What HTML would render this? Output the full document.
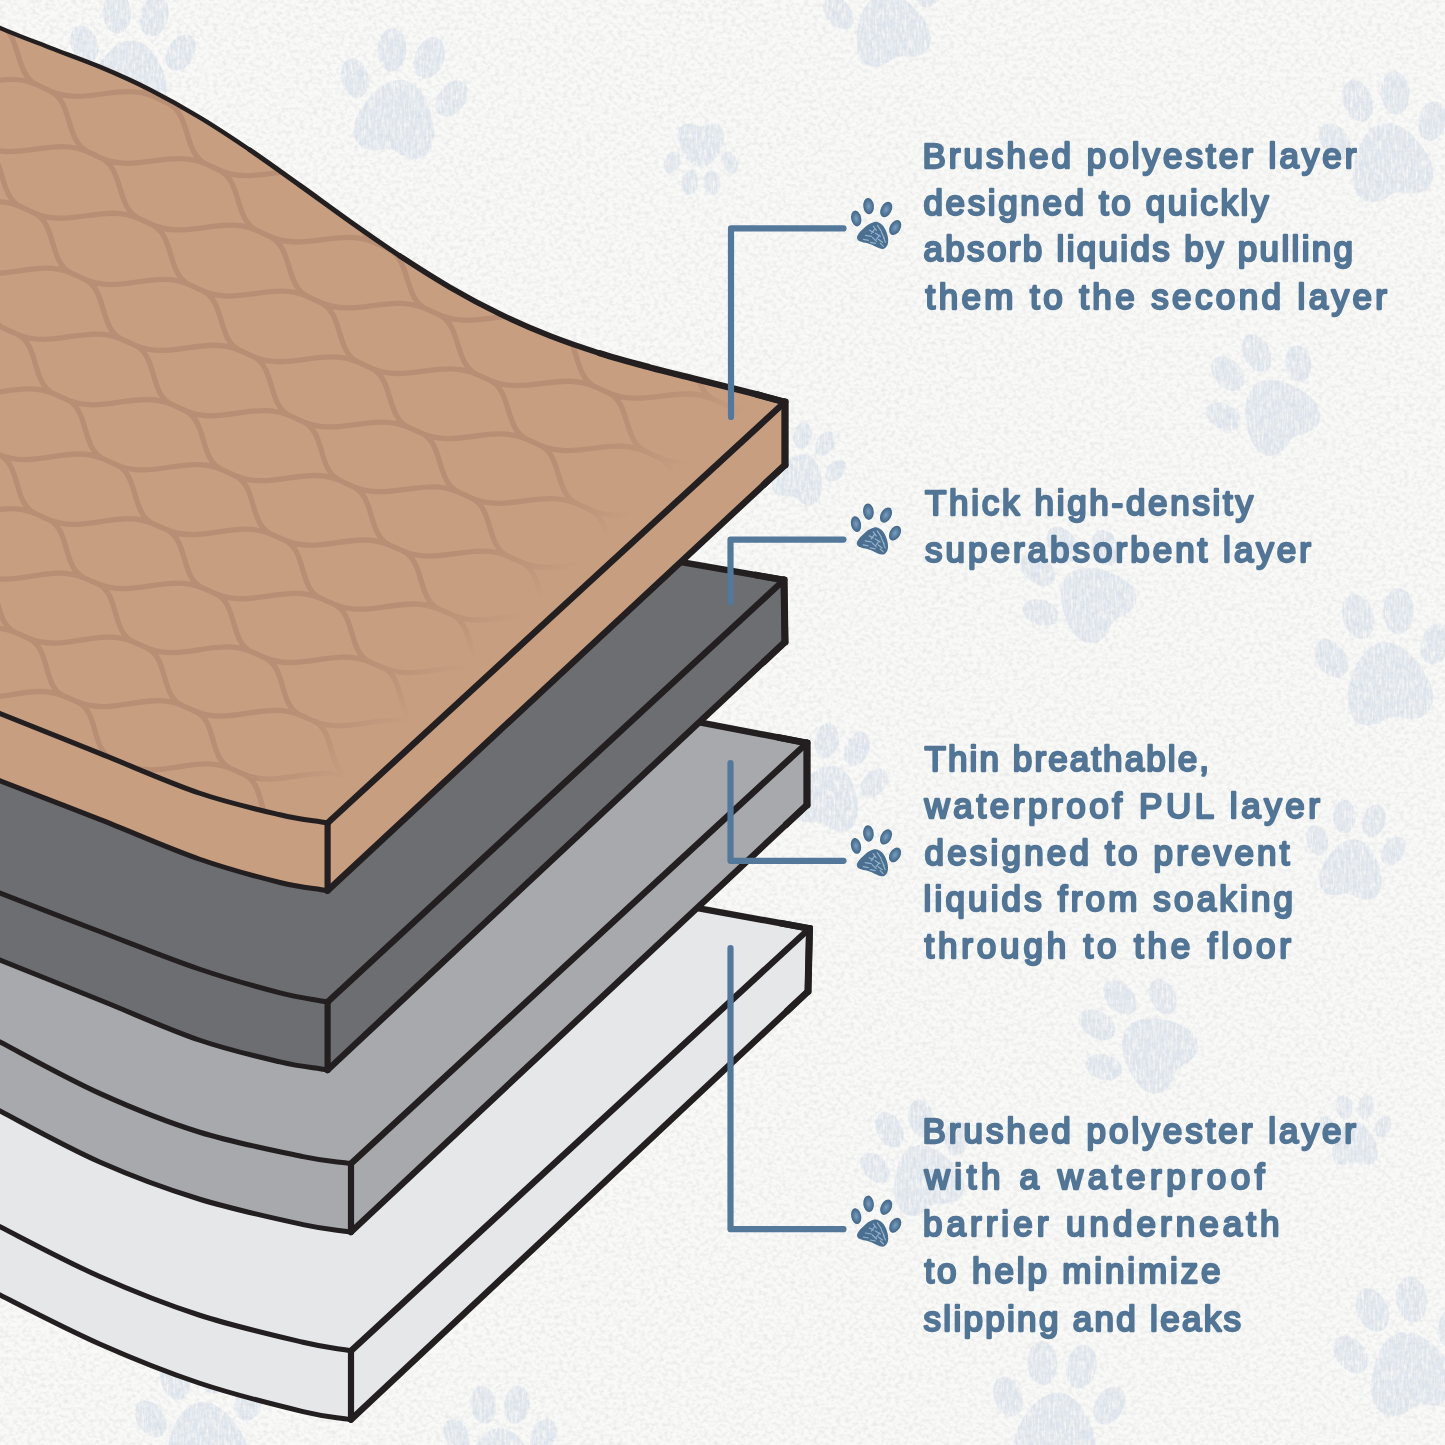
<!DOCTYPE html>
<html lang="en"><head><meta charset="utf-8"><title>Pad layers</title>
<style>html,body{margin:0;padding:0;background:#f6f6f3}body{width:1445px;height:1445px;overflow:hidden}svg{display:block}text{font-family:"Liberation Sans",sans-serif;font-weight:400;fill:#527596;stroke:#527596;stroke-width:2.3;stroke-linejoin:round;paint-order:stroke}</style></head><body>
<svg width="1445" height="1445" viewBox="0 0 1445 1445">
<defs>
<filter id="paper" x="0" y="0" width="100%" height="100%"><feTurbulence type="fractalNoise" baseFrequency="0.22 0.26" numOctaves="3" seed="7" result="n"/><feColorMatrix in="n" type="matrix" values="0 0 0 0 0.62  0 0 0 0 0.64  0 0 0 0 0.66  0.9 0 0 0 -0.38"/></filter>
<filter id="cray" x="-5%" y="-5%" width="110%" height="110%"><feTurbulence type="fractalNoise" baseFrequency="0.45 0.1" numOctaves="2" seed="3" result="t"/><feColorMatrix in="t" type="matrix" values="0 0 0 0 0  0 0 0 0 0  0 0 0 0 0  2.2 0 0 0 -0.35" result="m"/><feComposite in="SourceGraphic" in2="m" operator="in"/></filter>
<linearGradient id="fade" gradientUnits="userSpaceOnUse" x1="478.4" y1="527.9" x2="556.3" y2="612.5"><stop offset="0" stop-color="#c89e81" stop-opacity="0"/><stop offset="0.5" stop-color="#c89e81" stop-opacity="0.4"/><stop offset="0.82" stop-color="#c89e81" stop-opacity="1"/><stop offset="1" stop-color="#c89e81" stop-opacity="1"/></linearGradient>
<clipPath id="padclip"><path d="M24 24.6 C29 23.5 34.5 29 36.5 36 C38.5 42.5 38.5 47.5 35 50.5 C31.5 53.5 27 50 21.5 47.5 C16 45 9 45.5 7 42 C5 38.5 11 33 15 29.5 C18 26.8 21 25.2 24 24.6 Z"/></clipPath>
<radialGradient id="toeg" cx="0.5" cy="0.5" r="0.5"><stop offset="0" stop-color="#7d9fc0"/><stop offset="0.55" stop-color="#587d9f"/><stop offset="1" stop-color="#3f6486"/></radialGradient>
</defs>
<rect width="1445" height="1445" fill="#f9f9f7"/>
<g fill="#e0e7ef" filter="url(#cray)"><g transform="translate(130.0 78.0) rotate(5) scale(0.78)" opacity="1"><path d="M0 -48 C22 -48 40 -22 48 4 C56 30 44 48 24 46 C12 45 8 40 0 40 C-8 40 -12 45 -24 46 C-44 48 -56 30 -48 4 C-40 -22 -22 -48 0 -48 Z"/><ellipse cx="-62" cy="-38" rx="17" ry="25" transform="rotate(-25 -62 -38)"/><ellipse cx="-24" cy="-82" rx="18" ry="27" transform="rotate(-8 -24 -82)"/><ellipse cx="24" cy="-82" rx="18" ry="27" transform="rotate(8 24 -82)"/><ellipse cx="62" cy="-38" rx="17" ry="25" transform="rotate(25 62 -38)"/></g><g transform="translate(397.0 118.0) rotate(12) scale(0.8)" opacity="1"><path d="M0 -48 C22 -48 40 -22 48 4 C56 30 44 48 24 46 C12 45 8 40 0 40 C-8 40 -12 45 -24 46 C-44 48 -56 30 -48 4 C-40 -22 -22 -48 0 -48 Z"/><ellipse cx="-62" cy="-38" rx="17" ry="25" transform="rotate(-25 -62 -38)"/><ellipse cx="-24" cy="-82" rx="18" ry="27" transform="rotate(-8 -24 -82)"/><ellipse cx="24" cy="-82" rx="18" ry="27" transform="rotate(8 24 -82)"/><ellipse cx="62" cy="-38" rx="17" ry="25" transform="rotate(25 62 -38)"/></g><g transform="translate(701.0 145.0) rotate(180) scale(0.46)" opacity="1"><path d="M0 -48 C22 -48 40 -22 48 4 C56 30 44 48 24 46 C12 45 8 40 0 40 C-8 40 -12 45 -24 46 C-44 48 -56 30 -48 4 C-40 -22 -22 -48 0 -48 Z"/><ellipse cx="-62" cy="-38" rx="17" ry="25" transform="rotate(-25 -62 -38)"/><ellipse cx="-24" cy="-82" rx="18" ry="27" transform="rotate(-8 -24 -82)"/><ellipse cx="24" cy="-82" rx="18" ry="27" transform="rotate(8 24 -82)"/><ellipse cx="62" cy="-38" rx="17" ry="25" transform="rotate(25 62 -38)"/></g><g transform="translate(890.0 28.0) rotate(-15) scale(0.74)" opacity="1"><path d="M0 -48 C22 -48 40 -22 48 4 C56 30 44 48 24 46 C12 45 8 40 0 40 C-8 40 -12 45 -24 46 C-44 48 -56 30 -48 4 C-40 -22 -22 -48 0 -48 Z"/><ellipse cx="-62" cy="-38" rx="17" ry="25" transform="rotate(-25 -62 -38)"/><ellipse cx="-24" cy="-82" rx="18" ry="27" transform="rotate(-8 -24 -82)"/><ellipse cx="24" cy="-82" rx="18" ry="27" transform="rotate(8 24 -82)"/><ellipse cx="62" cy="-38" rx="17" ry="25" transform="rotate(25 62 -38)"/></g><g transform="translate(1390.0 161.0) rotate(-12) scale(0.8)" opacity="1"><path d="M0 -48 C22 -48 40 -22 48 4 C56 30 44 48 24 46 C12 45 8 40 0 40 C-8 40 -12 45 -24 46 C-44 48 -56 30 -48 4 C-40 -22 -22 -48 0 -48 Z"/><ellipse cx="-62" cy="-38" rx="17" ry="25" transform="rotate(-25 -62 -38)"/><ellipse cx="-24" cy="-82" rx="18" ry="27" transform="rotate(-8 -24 -82)"/><ellipse cx="24" cy="-82" rx="18" ry="27" transform="rotate(8 24 -82)"/><ellipse cx="62" cy="-38" rx="17" ry="25" transform="rotate(25 62 -38)"/></g><g transform="translate(1277.0 413.0) rotate(-35) scale(0.74)" opacity="1"><path d="M0 -48 C22 -48 40 -22 48 4 C56 30 44 48 24 46 C12 45 8 40 0 40 C-8 40 -12 45 -24 46 C-44 48 -56 30 -48 4 C-40 -22 -22 -48 0 -48 Z"/><ellipse cx="-62" cy="-38" rx="17" ry="25" transform="rotate(-25 -62 -38)"/><ellipse cx="-24" cy="-82" rx="18" ry="27" transform="rotate(-8 -24 -82)"/><ellipse cx="24" cy="-82" rx="18" ry="27" transform="rotate(8 24 -82)"/><ellipse cx="62" cy="-38" rx="17" ry="25" transform="rotate(25 62 -38)"/></g><g transform="translate(1093.0 600.0) rotate(-45) scale(0.74)" opacity="1"><path d="M0 -48 C22 -48 40 -22 48 4 C56 30 44 48 24 46 C12 45 8 40 0 40 C-8 40 -12 45 -24 46 C-44 48 -56 30 -48 4 C-40 -22 -22 -48 0 -48 Z"/><ellipse cx="-62" cy="-38" rx="17" ry="25" transform="rotate(-25 -62 -38)"/><ellipse cx="-24" cy="-82" rx="18" ry="27" transform="rotate(-8 -24 -82)"/><ellipse cx="24" cy="-82" rx="18" ry="27" transform="rotate(8 24 -82)"/><ellipse cx="62" cy="-38" rx="17" ry="25" transform="rotate(25 62 -38)"/></g><g transform="translate(1388.0 683.0) rotate(-8) scale(0.85)" opacity="1"><path d="M0 -48 C22 -48 40 -22 48 4 C56 30 44 48 24 46 C12 45 8 40 0 40 C-8 40 -12 45 -24 46 C-44 48 -56 30 -48 4 C-40 -22 -22 -48 0 -48 Z"/><ellipse cx="-62" cy="-38" rx="17" ry="25" transform="rotate(-25 -62 -38)"/><ellipse cx="-24" cy="-82" rx="18" ry="27" transform="rotate(-8 -24 -82)"/><ellipse cx="24" cy="-82" rx="18" ry="27" transform="rotate(8 24 -82)"/><ellipse cx="62" cy="-38" rx="17" ry="25" transform="rotate(25 62 -38)"/></g><g transform="translate(828.0 797.0) rotate(15) scale(0.66)" opacity="1"><path d="M0 -48 C22 -48 40 -22 48 4 C56 30 44 48 24 46 C12 45 8 40 0 40 C-8 40 -12 45 -24 46 C-44 48 -56 30 -48 4 C-40 -22 -22 -48 0 -48 Z"/><ellipse cx="-62" cy="-38" rx="17" ry="25" transform="rotate(-25 -62 -38)"/><ellipse cx="-24" cy="-82" rx="18" ry="27" transform="rotate(-8 -24 -82)"/><ellipse cx="24" cy="-82" rx="18" ry="27" transform="rotate(8 24 -82)"/><ellipse cx="62" cy="-38" rx="17" ry="25" transform="rotate(25 62 -38)"/></g><g transform="translate(1352.0 869.0) rotate(8) scale(0.62)" opacity="1"><path d="M0 -48 C22 -48 40 -22 48 4 C56 30 44 48 24 46 C12 45 8 40 0 40 C-8 40 -12 45 -24 46 C-44 48 -56 30 -48 4 C-40 -22 -22 -48 0 -48 Z"/><ellipse cx="-62" cy="-38" rx="17" ry="25" transform="rotate(-25 -62 -38)"/><ellipse cx="-24" cy="-82" rx="18" ry="27" transform="rotate(-8 -24 -82)"/><ellipse cx="24" cy="-82" rx="18" ry="27" transform="rotate(8 24 -82)"/><ellipse cx="62" cy="-38" rx="17" ry="25" transform="rotate(25 62 -38)"/></g><g transform="translate(1155.0 1050.0) rotate(-50) scale(0.74)" opacity="1"><path d="M0 -48 C22 -48 40 -22 48 4 C56 30 44 48 24 46 C12 45 8 40 0 40 C-8 40 -12 45 -24 46 C-44 48 -56 30 -48 4 C-40 -22 -22 -48 0 -48 Z"/><ellipse cx="-62" cy="-38" rx="17" ry="25" transform="rotate(-25 -62 -38)"/><ellipse cx="-24" cy="-82" rx="18" ry="27" transform="rotate(-8 -24 -82)"/><ellipse cx="24" cy="-82" rx="18" ry="27" transform="rotate(8 24 -82)"/><ellipse cx="62" cy="-38" rx="17" ry="25" transform="rotate(25 62 -38)"/></g><g transform="translate(925.0 1178.0) rotate(-20) scale(0.7)" opacity="1"><path d="M0 -48 C22 -48 40 -22 48 4 C56 30 44 48 24 46 C12 45 8 40 0 40 C-8 40 -12 45 -24 46 C-44 48 -56 30 -48 4 C-40 -22 -22 -48 0 -48 Z"/><ellipse cx="-62" cy="-38" rx="17" ry="25" transform="rotate(-25 -62 -38)"/><ellipse cx="-24" cy="-82" rx="18" ry="27" transform="rotate(-8 -24 -82)"/><ellipse cx="24" cy="-82" rx="18" ry="27" transform="rotate(8 24 -82)"/><ellipse cx="62" cy="-38" rx="17" ry="25" transform="rotate(25 62 -38)"/></g><g transform="translate(1355.0 1144.0) rotate(0) scale(0.45)" opacity="1"><path d="M0 -48 C22 -48 40 -22 48 4 C56 30 44 48 24 46 C12 45 8 40 0 40 C-8 40 -12 45 -24 46 C-44 48 -56 30 -48 4 C-40 -22 -22 -48 0 -48 Z"/><ellipse cx="-62" cy="-38" rx="17" ry="25" transform="rotate(-25 -62 -38)"/><ellipse cx="-24" cy="-82" rx="18" ry="27" transform="rotate(-8 -24 -82)"/><ellipse cx="24" cy="-82" rx="18" ry="27" transform="rotate(8 24 -82)"/><ellipse cx="62" cy="-38" rx="17" ry="25" transform="rotate(25 62 -38)"/></g><g transform="translate(1410.0 1372.0) rotate(-15) scale(0.85)" opacity="1"><path d="M0 -48 C22 -48 40 -22 48 4 C56 30 44 48 24 46 C12 45 8 40 0 40 C-8 40 -12 45 -24 46 C-44 48 -56 30 -48 4 C-40 -22 -22 -48 0 -48 Z"/><ellipse cx="-62" cy="-38" rx="17" ry="25" transform="rotate(-25 -62 -38)"/><ellipse cx="-24" cy="-82" rx="18" ry="27" transform="rotate(-8 -24 -82)"/><ellipse cx="24" cy="-82" rx="18" ry="27" transform="rotate(8 24 -82)"/><ellipse cx="62" cy="-38" rx="17" ry="25" transform="rotate(25 62 -38)"/></g><g transform="translate(1056.0 1432.0) rotate(5) scale(0.82)" opacity="1"><path d="M0 -48 C22 -48 40 -22 48 4 C56 30 44 48 24 46 C12 45 8 40 0 40 C-8 40 -12 45 -24 46 C-44 48 -56 30 -48 4 C-40 -22 -22 -48 0 -48 Z"/><ellipse cx="-62" cy="-38" rx="17" ry="25" transform="rotate(-25 -62 -38)"/><ellipse cx="-24" cy="-82" rx="18" ry="27" transform="rotate(-8 -24 -82)"/><ellipse cx="24" cy="-82" rx="18" ry="27" transform="rotate(8 24 -82)"/><ellipse cx="62" cy="-38" rx="17" ry="25" transform="rotate(25 62 -38)"/></g><g transform="translate(205.0 1440.0) rotate(-10) scale(0.8)" opacity="1"><path d="M0 -48 C22 -48 40 -22 48 4 C56 30 44 48 24 46 C12 45 8 40 0 40 C-8 40 -12 45 -24 46 C-44 48 -56 30 -48 4 C-40 -22 -22 -48 0 -48 Z"/><ellipse cx="-62" cy="-38" rx="17" ry="25" transform="rotate(-25 -62 -38)"/><ellipse cx="-24" cy="-82" rx="18" ry="27" transform="rotate(-8 -24 -82)"/><ellipse cx="24" cy="-82" rx="18" ry="27" transform="rotate(8 24 -82)"/><ellipse cx="62" cy="-38" rx="17" ry="25" transform="rotate(25 62 -38)"/></g><g transform="translate(500.0 1462.0) rotate(0) scale(0.7)" opacity="1"><path d="M0 -48 C22 -48 40 -22 48 4 C56 30 44 48 24 46 C12 45 8 40 0 40 C-8 40 -12 45 -24 46 C-44 48 -56 30 -48 4 C-40 -22 -22 -48 0 -48 Z"/><ellipse cx="-62" cy="-38" rx="17" ry="25" transform="rotate(-25 -62 -38)"/><ellipse cx="-24" cy="-82" rx="18" ry="27" transform="rotate(-8 -24 -82)"/><ellipse cx="24" cy="-82" rx="18" ry="27" transform="rotate(8 24 -82)"/><ellipse cx="62" cy="-38" rx="17" ry="25" transform="rotate(25 62 -38)"/></g><g transform="translate(800.0 478.0) rotate(20) scale(0.5)" opacity="1"><path d="M0 -48 C22 -48 40 -22 48 4 C56 30 44 48 24 46 C12 45 8 40 0 40 C-8 40 -12 45 -24 46 C-44 48 -56 30 -48 4 C-40 -22 -22 -48 0 -48 Z"/><ellipse cx="-62" cy="-38" rx="17" ry="25" transform="rotate(-25 -62 -38)"/><ellipse cx="-24" cy="-82" rx="18" ry="27" transform="rotate(-8 -24 -82)"/><ellipse cx="24" cy="-82" rx="18" ry="27" transform="rotate(8 24 -82)"/><ellipse cx="62" cy="-38" rx="17" ry="25" transform="rotate(25 62 -38)"/></g></g>
<rect width="1445" height="1445" filter="url(#paper)" opacity="1"/>
<g fill="#e6e7e8" stroke="#e6e7e8" stroke-width="2" stroke-linejoin="round"><path d="M351.0 1350.8 C335.0 1348.0 328.3 1348.3 303.0 1342.3 C277.7 1336.3 232.9 1326.0 199.0 1315.0 C165.1 1304.0 132.9 1291.2 99.7 1276.5 C66.5 1261.8 23.3 1238.6 0.0 1226.7 C-23.3 1214.8 -26.7 1212.2 -40.0 1205.0 L-40.0 1273.0 C-26.7 1280.3 -23.3 1283.2 0.0 1295.0 C23.3 1306.8 66.5 1329.3 99.7 1344.0 C132.9 1358.7 165.1 1371.7 199.0 1383.0 C232.9 1394.3 277.7 1405.5 303.0 1411.6 C328.3 1417.7 335.0 1416.9 351.0 1419.6 Z"/><path d="M809.5 928.5L808.0 991.5L351.0 1419.6L351.0 1350.8Z"/><path d="M500.0 872.0 L809.5 928.5 L351.0 1350.8 C335.0 1348.0 328.3 1348.3 303.0 1342.3 C277.7 1336.3 232.9 1326.0 199.0 1315.0 C165.1 1304.0 132.9 1291.2 99.7 1276.5 C66.5 1261.8 23.3 1238.6 0.0 1226.7 C-23.3 1214.8 -26.7 1212.2 -40.0 1205.0 L-40 722.0 Z"/></g>
<g fill="none" stroke="#231f20" stroke-linecap="round" stroke-linejoin="round">
<path d="M351.0 1350.8 C335.0 1348.0 328.3 1348.3 303.0 1342.3 C277.7 1336.3 232.9 1326.0 199.0 1315.0 C165.1 1304.0 132.9 1291.2 99.7 1276.5 C66.5 1261.8 23.3 1238.6 0.0 1226.7 C-23.3 1214.8 -26.7 1212.2 -40.0 1205.0" stroke-width="5"/>
<path d="M351.0 1419.6 C335.0 1416.9 328.3 1417.7 303.0 1411.6 C277.7 1405.5 232.9 1394.3 199.0 1383.0 C165.1 1371.7 132.9 1358.7 99.7 1344.0 C66.5 1329.3 23.3 1306.8 0.0 1295.0 C-23.3 1283.2 -26.7 1280.3 -40.0 1273.0" stroke-width="5"/>
<path d="M500.0 872.0 L809.5 928.5" stroke-width="6.4"/>
<path d="M809.5 928.5 L351.0 1350.8" stroke-width="6.4"/>
<path d="M808.0 991.5 L351.0 1419.6" stroke-width="6.4"/>
<path d="M809.5 928.5 L808.0 991.5" stroke-width="7"/>
<path d="M351.0 1350.8 L351.0 1419.6" stroke-width="6.2"/>
<path d="M780.0 923.1 L809.5 928.5 L808.0 991.5 L786.1 1012.0" stroke-width="6.6" stroke-linejoin="miter" stroke-miterlimit="6" stroke-linecap="butt"/>
</g>
<g fill="#a7a9ac" stroke="#a7a9ac" stroke-width="2" stroke-linejoin="round"><path d="M351.0 1163.6 C335.0 1161.3 328.3 1161.9 303.0 1156.6 C277.7 1151.3 232.9 1142.5 199.0 1132.0 C165.1 1121.5 132.9 1108.4 99.7 1093.4 C66.5 1078.4 23.3 1054.2 0.0 1042.0 C-23.3 1029.8 -26.7 1027.3 -40.0 1020.0 L-40.0 1089.0 C-26.7 1096.3 -23.3 1098.8 0.0 1111.0 C23.3 1123.2 66.5 1147.3 99.7 1162.0 C132.9 1176.7 165.1 1188.6 199.0 1199.0 C232.9 1209.4 277.7 1219.1 303.0 1224.6 C328.3 1230.1 335.0 1229.5 351.0 1232.0 Z"/><path d="M807.0 743.0L807.0 805.0L351.0 1232.0L351.0 1163.6Z"/><path d="M500.0 684.0 L807.0 743.0 L351.0 1163.6 C335.0 1161.3 328.3 1161.9 303.0 1156.6 C277.7 1151.3 232.9 1142.5 199.0 1132.0 C165.1 1121.5 132.9 1108.4 99.7 1093.4 C66.5 1078.4 23.3 1054.2 0.0 1042.0 C-23.3 1029.8 -26.7 1027.3 -40.0 1020.0 L-40 534.0 Z"/></g>
<g fill="none" stroke="#231f20" stroke-linecap="round" stroke-linejoin="round">
<path d="M351.0 1163.6 C335.0 1161.3 328.3 1161.9 303.0 1156.6 C277.7 1151.3 232.9 1142.5 199.0 1132.0 C165.1 1121.5 132.9 1108.4 99.7 1093.4 C66.5 1078.4 23.3 1054.2 0.0 1042.0 C-23.3 1029.8 -26.7 1027.3 -40.0 1020.0" stroke-width="5"/>
<path d="M351.0 1232.0 C335.0 1229.5 328.3 1230.1 303.0 1224.6 C277.7 1219.1 232.9 1209.4 199.0 1199.0 C165.1 1188.6 132.9 1176.7 99.7 1162.0 C66.5 1147.3 23.3 1123.2 0.0 1111.0 C-23.3 1098.8 -26.7 1096.3 -40.0 1089.0" stroke-width="5"/>
<path d="M500.0 684.0 L807.0 743.0" stroke-width="6.4"/>
<path d="M807.0 743.0 L351.0 1163.6" stroke-width="6.4"/>
<path d="M807.0 805.0 L351.0 1232.0" stroke-width="6.4"/>
<path d="M807.0 743.0 L807.0 805.0" stroke-width="7"/>
<path d="M351.0 1163.6 L351.0 1232.0" stroke-width="6.2"/>
<path d="M777.5 737.3 L807.0 743.0 L807.0 805.0 L785.1 825.5" stroke-width="6.6" stroke-linejoin="miter" stroke-miterlimit="6" stroke-linecap="butt"/>
</g>
<g fill="#6d6e71" stroke="#6d6e71" stroke-width="2" stroke-linejoin="round"><path d="M327.6 1002.0 C311.7 998.9 301.4 998.3 280.0 992.8 C258.6 987.3 229.1 979.2 199.0 969.0 C168.9 958.8 132.9 944.2 99.7 931.5 C66.5 918.8 23.3 902.1 0.0 893.0 C-23.3 883.9 -26.7 882.3 -40.0 877.0 L-40.0 944.0 C-26.7 949.3 -23.3 950.7 0.0 960.0 C23.3 969.3 66.5 986.7 99.7 1000.0 C132.9 1013.3 168.9 1029.7 199.0 1040.0 C229.1 1050.3 258.6 1056.9 280.0 1061.9 C301.4 1066.9 311.7 1067.3 327.6 1070.0 Z"/><path d="M784.0 580.0L785.0 642.0L327.6 1070.0L327.6 1002.0Z"/><path d="M480.0 527.0 L784.0 580.0 L327.6 1002.0 C311.7 998.9 301.4 998.3 280.0 992.8 C258.6 987.3 229.1 979.2 199.0 969.0 C168.9 958.8 132.9 944.2 99.7 931.5 C66.5 918.8 23.3 902.1 0.0 893.0 C-23.3 883.9 -26.7 882.3 -40.0 877.0 L-40 377.0 Z"/></g>
<g fill="none" stroke="#231f20" stroke-linecap="round" stroke-linejoin="round">
<path d="M327.6 1002.0 C311.7 998.9 301.4 998.3 280.0 992.8 C258.6 987.3 229.1 979.2 199.0 969.0 C168.9 958.8 132.9 944.2 99.7 931.5 C66.5 918.8 23.3 902.1 0.0 893.0 C-23.3 883.9 -26.7 882.3 -40.0 877.0" stroke-width="5"/>
<path d="M327.6 1070.0 C311.7 1067.3 301.4 1066.9 280.0 1061.9 C258.6 1056.9 229.1 1050.3 199.0 1040.0 C168.9 1029.7 132.9 1013.3 99.7 1000.0 C66.5 986.7 23.3 969.3 0.0 960.0 C-23.3 950.7 -26.7 949.3 -40.0 944.0" stroke-width="5"/>
<path d="M480.0 527.0 L784.0 580.0" stroke-width="6.4"/>
<path d="M784.0 580.0 L327.6 1002.0" stroke-width="6.4"/>
<path d="M785.0 642.0 L327.6 1070.0" stroke-width="6.4"/>
<path d="M784.0 580.0 L785.0 642.0" stroke-width="7"/>
<path d="M327.6 1002.0 L327.6 1070.0" stroke-width="6.2"/>
<path d="M754.4 574.8 L784.0 580.0 L785.0 642.0 L763.1 662.5" stroke-width="6.6" stroke-linejoin="miter" stroke-miterlimit="6" stroke-linecap="butt"/>
</g>
<g fill="#c89e81" stroke="#c89e81" stroke-width="2" stroke-linejoin="round"><path d="M327.6 823.0 C311.7 820.3 301.4 819.8 280.0 814.8 C258.6 809.8 229.1 803.2 199.0 793.0 C168.9 782.8 132.9 766.6 99.7 753.4 C66.5 740.1 23.3 722.9 0.0 713.5 C-23.3 704.1 -26.7 702.5 -40.0 697.0 L-40.0 765.0 C-26.7 770.3 -23.3 771.7 0.0 780.8 C23.3 789.9 66.5 806.4 99.7 819.4 C132.9 832.4 168.9 848.5 199.0 859.0 C229.1 869.5 258.6 877.2 280.0 882.5 C301.4 887.8 311.7 888.0 327.6 890.7 Z"/><path d="M785.0 402.0L785.0 465.0L327.6 890.7L327.6 823.0Z"/><path d="M-40.0 8.0 C-26.7 14.6 -15.0 21.3 0.0 27.9 C15.0 34.5 33.3 41.2 50.0 47.7 C66.7 54.2 83.3 59.9 100.0 66.9 C116.7 73.9 133.3 81.2 150.0 89.7 C166.7 98.2 183.3 107.5 200.0 117.6 C216.7 127.6 233.3 138.7 250.0 150.0 C266.7 161.3 283.3 173.5 300.0 185.4 C316.7 197.3 333.3 209.7 350.0 221.5 C366.7 233.3 383.3 245.0 400.0 256.0 C416.7 267.0 433.3 277.6 450.0 287.3 C466.7 297.0 483.3 305.9 500.0 314.0 C516.7 322.1 533.3 329.3 550.0 335.9 C566.7 342.4 583.3 348.0 600.0 353.3 C616.7 358.6 633.3 363.0 650.0 367.5 C666.7 372.0 684.2 376.1 700.0 380.1 C715.8 384.1 730.8 387.8 745.0 391.4 C759.2 395.0 771.7 398.5 785.0 402.0 L327.6 823.0 C311.7 820.3 301.4 819.8 280.0 814.8 C258.6 809.8 229.1 803.2 199.0 793.0 C168.9 782.8 132.9 766.6 99.7 753.4 C66.5 740.1 23.3 722.9 0.0 713.5 C-23.3 704.1 -26.7 702.5 -40.0 697.0 Z"/></g>
<clipPath id="cl1"><path d="M-40.0 8.0 C-26.7 14.6 -15.0 21.3 0.0 27.9 C15.0 34.5 33.3 41.2 50.0 47.7 C66.7 54.2 83.3 59.9 100.0 66.9 C116.7 73.9 133.3 81.2 150.0 89.7 C166.7 98.2 183.3 107.5 200.0 117.6 C216.7 127.6 233.3 138.7 250.0 150.0 C266.7 161.3 283.3 173.5 300.0 185.4 C316.7 197.3 333.3 209.7 350.0 221.5 C366.7 233.3 383.3 245.0 400.0 256.0 C416.7 267.0 433.3 277.6 450.0 287.3 C466.7 297.0 483.3 305.9 500.0 314.0 C516.7 322.1 533.3 329.3 550.0 335.9 C566.7 342.4 583.3 348.0 600.0 353.3 C616.7 358.6 633.3 363.0 650.0 367.5 C666.7 372.0 684.2 376.1 700.0 380.1 C715.8 384.1 730.8 387.8 745.0 391.4 C759.2 395.0 771.7 398.5 785.0 402.0 L327.6 823.0 C311.7 820.3 301.4 819.8 280.0 814.8 C258.6 809.8 229.1 803.2 199.0 793.0 C168.9 782.8 132.9 766.6 99.7 753.4 C66.5 740.1 23.3 722.9 0.0 713.5 C-23.3 704.1 -26.7 702.5 -40.0 697.0 Z"/></clipPath>
<g clip-path="url(#cl1)"><path d="M-192.5 797.5L-179.6 803.0 M-179.6 803.0C-144.9 817.8 -109.5 790.5 -74.9 805.4 M-179.6 803.0C-157.4 812.5 -167.0 850.8 -144.8 860.2 M-144.8 860.2L-131.9 865.7 M-131.9 865.7C-97.1 880.4 -61.8 853.2 -27.1 868.0 M-131.9 865.7C-109.8 875.1 -119.4 913.3 -97.3 922.6 M-171.2 678.8L-158.3 684.4 M-158.3 684.4C-123.7 699.4 -88.1 672.3 -53.5 687.3 M-158.3 684.4C-135.9 694.1 -145.3 732.6 -122.9 742.3 M-122.9 742.3L-110.0 747.8 M-110.0 747.8C-75.4 762.8 -39.8 735.7 -5.2 750.7 M-110.0 747.8C-87.8 757.4 -97.2 795.8 -74.9 805.4 M-74.9 805.4L-62.0 810.9 M-62.0 810.9C-27.2 825.7 8.2 798.7 43.0 813.6 M-62.0 810.9C-39.8 820.3 -49.2 858.5 -27.1 868.0 M-27.1 868.0L-14.2 873.4 M-14.2 873.4C20.6 888.2 56.1 861.3 90.9 876.1 M-14.2 873.4C7.9 882.8 -1.5 920.9 20.5 930.1 M-199.9 494.6L-187.1 500.3 M-187.1 500.3C-152.6 515.6 -116.8 488.6 -82.3 504.0 M-187.1 500.3C-164.4 510.4 -173.7 549.2 -150.9 559.3 M-150.9 559.3L-138.1 565.0 M-138.1 565.0C-103.5 580.2 -67.8 553.2 -33.2 568.5 M-138.1 565.0C-115.4 574.9 -124.8 613.6 -102.1 623.5 M-102.1 623.5L-89.3 629.2 M-89.3 629.2C-54.6 644.3 -18.9 617.4 15.7 632.6 M-89.3 629.2C-66.7 639.0 -76.0 677.5 -53.5 687.3 M-53.5 687.3L-40.7 692.9 M-40.7 692.9C-6.0 708.0 29.7 681.2 64.3 696.3 M-40.7 692.9C-18.3 702.7 -27.6 741.0 -5.2 750.7 M-5.2 750.7L7.7 756.2 M7.7 756.2C42.4 771.2 78.0 744.5 112.8 759.5 M7.7 756.2C30.0 765.9 20.7 804.1 43.0 813.6 M43.0 813.6L55.8 819.1 M55.8 819.1C90.6 834.1 126.2 807.3 161.0 822.3 M55.8 819.1C78.0 828.6 68.7 866.7 90.9 876.1 M90.9 876.1L103.7 881.6 M103.7 881.6C138.6 896.4 174.1 869.7 208.9 884.6 M103.7 881.6C125.7 890.9 116.5 928.8 138.5 938.1 M-181.3 373.6L-168.5 379.3 M-168.5 379.3C-134.1 394.8 -98.1 368.0 -63.7 383.6 M-168.5 379.3C-145.5 389.7 -154.7 428.7 -131.7 439.0 M-131.7 439.0L-118.9 444.7 M-118.9 444.7C-84.4 460.2 -48.5 433.4 -14.0 448.8 M-118.9 444.7C-96.0 455.0 -105.2 493.8 -82.3 504.0 M-82.3 504.0L-69.6 509.6 M-69.6 509.6C-35.0 525.0 0.9 498.3 35.4 513.7 M-69.6 509.6C-46.8 519.8 -56.0 558.4 -33.2 568.5 M-33.2 568.5L-20.4 574.2 M-20.4 574.2C14.2 589.5 50.0 562.8 84.6 578.1 M-20.4 574.2C2.2 584.1 -7.0 622.7 15.7 632.6 M15.7 632.6L28.5 638.2 M28.5 638.2C63.2 653.4 98.9 626.8 133.6 642.0 M28.5 638.2C51.0 648.1 41.8 686.4 64.3 696.3 M64.3 696.3L77.2 701.8 M77.2 701.8C111.9 717.0 147.6 690.4 182.4 705.6 M77.2 701.8C99.5 711.6 90.4 749.8 112.8 759.5 M112.8 759.5L125.6 765.0 M125.6 765.0C160.4 780.1 196.1 753.6 230.9 768.6 M125.6 765.0C147.8 774.7 138.7 812.7 161.0 822.3 M161.0 822.3L173.8 827.8 M173.8 827.8C208.7 842.8 244.3 816.3 279.2 831.3 M173.8 827.8C195.9 837.3 186.8 875.2 208.9 884.6 M208.9 884.6L221.8 890.1 M221.8 890.1C256.7 905.0 292.3 878.6 327.2 893.5 M221.8 890.1C243.8 899.5 234.7 937.2 256.7 946.5 M-163.7 251.7L-151.0 257.5 M-151.0 257.5C-116.6 273.2 -80.4 246.6 -46.1 262.3 M-151.0 257.5C-127.7 268.1 -136.8 307.2 -113.6 317.8 M-113.6 317.8L-100.8 323.6 M-100.8 323.6C-66.4 339.3 -30.3 312.7 4.1 328.3 M-100.8 323.6C-77.7 334.1 -86.8 373.1 -63.7 383.6 M-63.7 383.6L-50.9 389.3 M-50.9 389.3C-16.4 404.9 19.6 378.3 54.1 393.9 M-50.9 389.3C-27.9 399.7 -37.0 438.5 -14.0 448.8 M-14.0 448.8L-1.2 454.6 M-1.2 454.6C33.3 470.1 69.3 443.5 103.9 459.1 M-1.2 454.6C21.6 464.8 12.6 503.5 35.4 513.7 M35.4 513.7L48.2 519.4 M48.2 519.4C82.8 534.8 118.8 508.3 153.4 523.8 M48.2 519.4C70.9 529.5 61.9 568.0 84.6 578.1 M84.6 578.1L97.4 583.7 M97.4 583.7C132.1 599.1 168.0 572.7 202.7 588.0 M97.4 583.7C120.0 593.7 111.0 632.1 133.6 642.0 M133.6 642.0L146.4 647.7 M146.4 647.7C181.2 662.9 217.0 636.6 251.7 651.9 M146.4 647.7C168.9 657.5 159.9 695.8 182.4 705.6 M182.4 705.6L195.2 711.2 M195.2 711.2C230.0 726.4 265.8 700.0 300.6 715.3 M195.2 711.2C217.5 720.9 208.5 759.0 230.9 768.6 M230.9 768.6L243.7 774.2 M243.7 774.2C278.6 789.3 314.3 763.1 349.2 778.2 M243.7 774.2C265.9 783.8 256.9 821.7 279.2 831.3 M279.2 831.3L292.0 836.8 M292.0 836.8C326.9 851.9 362.6 825.7 397.5 840.7 M292.0 836.8C314.1 846.3 305.1 884.1 327.2 893.5 M327.2 893.5L340.1 899.0 M340.1 899.0C375.1 913.9 410.7 887.8 445.7 902.8 M340.1 899.0C362.0 908.4 353.1 945.9 375.0 955.3 M-198.1 61.6L-185.4 67.5 M-185.4 67.5C-151.2 83.6 -114.8 57.0 -80.5 73.1 M-185.4 67.5C-161.8 78.6 -170.8 118.0 -147.2 129.0 M-147.2 129.0L-134.5 134.9 M-134.5 134.9C-100.2 150.8 -63.9 124.3 -29.6 140.3 M-134.5 134.9C-111.0 145.8 -120.0 185.0 -96.5 195.9 M-96.5 195.9L-83.8 201.7 M-83.8 201.7C-49.4 217.6 -13.2 191.2 21.2 207.0 M-83.8 201.7C-60.5 212.5 -69.4 251.6 -46.1 262.3 M-46.1 262.3L-33.4 268.2 M-33.4 268.2C1.1 284.0 37.3 257.6 71.7 273.4 M-33.4 268.2C-10.2 278.8 -19.1 317.8 4.1 328.3 M4.1 328.3L16.9 334.2 M16.9 334.2C51.4 349.9 87.5 323.5 122.0 339.3 M16.9 334.2C39.9 344.7 31.0 383.5 54.1 393.9 M54.1 393.9L66.9 399.7 M66.9 399.7C101.4 415.3 137.5 389.0 172.1 404.7 M66.9 399.7C89.8 410.1 80.9 448.8 103.9 459.1 M103.9 459.1L116.6 464.8 M116.6 464.8C151.2 480.4 187.3 454.1 221.9 469.7 M116.6 464.8C139.4 475.1 130.5 513.6 153.4 523.8 M153.4 523.8L166.2 529.5 M166.2 529.5C200.8 545.0 236.9 518.8 271.5 534.3 M166.2 529.5C188.8 539.6 180.0 578.0 202.7 588.0 M202.7 588.0L215.5 593.7 M215.5 593.7C250.2 609.1 286.2 583.0 320.9 598.4 M215.5 593.7C238.0 603.7 229.2 641.9 251.7 651.9 M251.7 651.9L264.5 657.5 M264.5 657.5C299.3 672.8 335.3 646.7 370.0 662.1 M264.5 657.5C287.0 667.4 278.1 705.4 300.6 715.3 M300.6 715.3L313.4 720.9 M313.4 720.9C348.2 736.1 384.1 710.1 419.0 725.3 M313.4 720.9C335.7 730.6 326.8 768.5 349.2 778.2 M349.2 778.2L362.0 783.8 M362.0 783.8C396.9 798.9 432.7 773.0 467.6 788.1 M362.0 783.8C384.2 793.4 375.4 831.1 397.5 840.7 M397.5 840.7L410.4 846.3 M410.4 846.3C445.4 861.3 481.1 835.4 516.1 850.5 M410.4 846.3C432.4 855.8 423.6 893.3 445.7 902.8 M445.7 902.8L458.5 908.3 M458.5 908.3C493.6 923.3 529.3 897.4 564.3 912.4 M458.5 908.3C480.4 917.7 471.7 955.1 493.6 964.4 M-183.2 -62.7L-170.6 -56.7 M-170.6 -56.7C-136.4 -40.4 -99.8 -66.8 -65.6 -50.5 M-170.6 -56.7C-146.8 -45.4 -155.6 -5.8 -131.8 5.4 M-131.8 5.4L-119.1 11.4 M-119.1 11.4C-84.9 27.5 -48.3 1.2 -14.1 17.4 M-119.1 11.4C-95.4 22.6 -104.3 62.0 -80.5 73.1 M-80.5 73.1L-67.9 79.0 M-67.9 79.0C-33.6 95.1 2.9 68.8 37.2 84.9 M-67.9 79.0C-44.3 90.0 -53.1 129.3 -29.6 140.3 M-29.6 140.3L-16.9 146.2 M-16.9 146.2C17.5 162.2 53.9 136.0 88.3 152.0 M-16.9 146.2C6.6 157.1 -2.3 196.2 21.2 207.0 M21.2 207.0L33.9 212.9 M33.9 212.9C68.3 228.8 104.7 202.7 139.1 218.6 M33.9 212.9C57.2 223.7 48.4 262.6 71.7 273.4 M71.7 273.4L84.4 279.2 M84.4 279.2C118.9 295.1 155.2 268.9 189.7 284.8 M84.4 279.2C107.6 289.9 98.8 328.7 122.0 339.3 M122.0 339.3L134.8 345.1 M134.8 345.1C169.3 360.8 205.6 334.8 240.1 350.5 M134.8 345.1C157.8 355.6 149.0 394.2 172.1 404.7 M172.1 404.7L184.8 410.5 M184.8 410.5C219.4 426.2 255.6 400.1 290.2 415.9 M184.8 410.5C207.7 420.9 199.0 459.4 221.9 469.7 M221.9 469.7L234.7 475.5 M234.7 475.5C269.3 491.1 305.5 465.1 340.2 480.7 M234.7 475.5C257.5 485.7 248.7 524.1 271.5 534.3 M271.5 534.3L284.3 540.0 M284.3 540.0C319.0 555.5 355.1 529.6 389.8 545.2 M284.3 540.0C307.0 550.1 298.2 588.3 320.9 598.4 M320.9 598.4L333.7 604.1 M333.7 604.1C368.5 619.5 404.5 593.7 439.3 609.1 M333.7 604.1C356.2 614.1 347.5 652.1 370.0 662.1 M370.0 662.1L382.8 667.7 M382.8 667.7C417.7 683.1 453.7 657.3 488.5 672.7 M382.8 667.7C405.2 677.6 396.5 715.5 419.0 725.3 M419.0 725.3L431.8 731.0 M431.8 731.0C466.7 746.3 502.6 720.5 537.5 735.8 M431.8 731.0C454.0 740.7 445.4 778.5 467.6 788.1 M467.6 788.1L480.5 793.7 M480.5 793.7C515.4 808.9 551.3 783.2 586.3 798.5 M480.5 793.7C502.6 803.4 493.9 840.9 516.1 850.5 M516.1 850.5L528.9 856.1 M528.9 856.1C564.0 871.2 599.8 845.6 634.8 860.7 M528.9 856.1C550.9 865.6 542.3 903.0 564.3 912.4 M564.3 912.4L577.2 918.0 M577.2 918.0C612.3 933.0 648.1 907.4 683.1 922.5 M577.2 918.0C599.0 927.3 590.4 964.6 612.3 973.9 M-117.4 -118.9L-104.8 -112.9 M-104.8 -112.9C-70.6 -96.5 -33.9 -122.7 0.3 -106.3 M-104.8 -112.9C-80.9 -101.5 -89.6 -61.9 -65.6 -50.5 M-65.6 -50.5L-53.0 -44.5 M-53.0 -44.5C-18.8 -28.3 17.9 -54.3 52.1 -38.0 M-53.0 -44.5C-29.2 -33.2 -37.9 6.2 -14.1 17.4 M-14.1 17.4L-1.5 23.4 M-1.5 23.4C32.8 39.6 69.4 13.6 103.7 29.8 M-1.5 23.4C22.2 34.6 13.5 73.8 37.2 84.9 M37.2 84.9L49.9 90.9 M49.9 90.9C84.2 107.0 120.8 81.0 155.1 97.1 M49.9 90.9C73.4 101.9 64.7 141.0 88.3 152.0 M88.3 152.0L100.9 157.9 M100.9 157.9C135.4 173.9 171.8 148.0 206.3 164.1 M100.9 157.9C124.3 168.8 115.7 207.8 139.1 218.6 M139.1 218.6L151.8 224.5 M151.8 224.5C186.3 240.5 222.7 214.6 257.2 230.6 M151.8 224.5C175.1 235.3 166.4 274.1 189.7 284.8 M189.7 284.8L202.4 290.7 M202.4 290.7C237.0 306.5 273.3 280.7 307.9 296.6 M202.4 290.7C225.6 301.3 216.9 340.0 240.1 350.5 M240.1 350.5L252.8 356.4 M252.8 356.4C287.4 372.2 323.7 346.4 358.3 362.2 M252.8 356.4C275.8 366.9 267.2 405.4 290.2 415.9 M290.2 415.9L303.0 421.6 M303.0 421.6C337.6 437.4 373.9 411.6 408.6 427.4 M303.0 421.6C325.9 432.0 317.2 470.4 340.2 480.7 M340.2 480.7L352.9 486.5 M352.9 486.5C387.6 502.1 423.9 476.4 458.6 492.1 M352.9 486.5C375.7 496.7 367.1 535.0 389.8 545.2 M389.8 545.2L402.6 550.9 M402.6 550.9C437.4 566.5 473.6 540.8 508.3 556.4 M402.6 550.9C425.2 561.0 416.7 599.1 439.3 609.1 M439.3 609.1L452.1 614.8 M452.1 614.8C486.9 630.3 523.1 604.8 557.9 620.3 M452.1 614.8C474.6 624.8 466.0 662.7 488.5 672.7 M488.5 672.7L501.3 678.4 M501.3 678.4C536.2 693.8 572.3 668.2 607.2 683.7 M501.3 678.4C523.7 688.2 515.1 726.0 537.5 735.8 M537.5 735.8L550.3 741.4 M550.3 741.4C585.3 756.8 621.3 731.3 656.3 746.7 M550.3 741.4C572.6 751.2 564.0 788.8 586.3 798.5 M586.3 798.5L599.1 804.1 M599.1 804.1C634.2 819.3 670.1 793.9 705.1 809.2 M599.1 804.1C621.2 813.7 612.7 851.1 634.8 860.7 M634.8 860.7L647.7 866.3 M647.7 866.3C682.8 881.5 718.7 856.1 753.8 871.3 M647.7 866.3C669.6 875.8 661.2 913.1 683.1 922.5 M683.1 922.5L696.0 928.0 M696.0 928.0C731.1 943.1 767.0 917.8 802.1 933.0 M696.0 928.0C717.8 937.4 709.4 974.5 731.2 983.9 M0.3 -106.3L12.9 -100.2 M12.9 -100.2C47.1 -83.8 83.9 -109.7 118.1 -93.3 M12.9 -100.2C36.8 -88.8 28.2 -49.4 52.1 -38.0 M52.1 -38.0L64.7 -32.0 M64.7 -32.0C99.0 -15.7 135.7 -41.5 170.0 -25.1 M64.7 -32.0C88.5 -20.7 79.9 18.5 103.7 29.8 M103.7 29.8L116.4 35.8 M116.4 35.8C150.7 52.0 187.4 26.3 221.7 42.5 M116.4 35.8C140.0 46.9 131.5 86.0 155.1 97.1 M155.1 97.1L167.8 103.1 M167.8 103.1C202.2 119.3 238.8 93.6 273.2 109.8 M167.8 103.1C191.3 114.1 182.7 153.1 206.3 164.1 M206.3 164.1L218.9 170.0 M218.9 170.0C253.4 186.1 290.0 160.4 324.4 176.6 M218.9 170.0C242.3 180.9 233.8 219.7 257.2 230.6 M257.2 230.6L269.9 236.5 M269.9 236.5C304.4 252.5 340.9 226.9 375.4 242.9 M269.9 236.5C293.1 247.2 284.6 285.9 307.9 296.6 M307.9 296.6L320.6 302.5 M320.6 302.5C355.2 318.4 391.6 292.9 426.2 308.8 M320.6 302.5C343.7 313.1 335.2 351.6 358.3 362.2 M358.3 362.2L371.1 368.1 M371.1 368.1C405.7 383.9 442.1 358.4 476.8 374.3 M371.1 368.1C394.0 378.6 385.6 416.9 408.6 427.4 M408.6 427.4L421.3 433.2 M421.3 433.2C456.0 449.0 492.4 423.5 527.1 439.3 M421.3 433.2C444.2 443.6 435.7 481.8 458.6 492.1 M458.6 492.1L471.3 497.9 M471.3 497.9C506.1 513.6 542.4 488.2 577.2 503.9 M471.3 497.9C494.0 508.2 485.6 546.2 508.3 556.4 M508.3 556.4L521.1 562.2 M521.1 562.2C556.0 577.8 592.2 552.4 627.0 568.1 M521.1 562.2C543.7 572.3 535.3 610.2 557.9 620.3 M557.9 620.3L570.7 626.0 M570.7 626.0C605.6 641.5 641.8 616.2 676.7 631.8 M570.7 626.0C593.1 636.0 584.7 673.7 607.2 683.7 M607.2 683.7L620.0 689.4 M620.0 689.4C655.0 704.8 691.1 679.6 726.1 695.1 M620.0 689.4C642.3 699.2 633.9 736.8 656.3 746.7 M656.3 746.7L669.1 752.3 M669.1 752.3C704.1 767.7 740.2 742.5 775.2 757.9 M669.1 752.3C691.3 762.1 682.9 799.5 705.1 809.2 M705.1 809.2L718.0 814.8 M718.0 814.8C753.0 830.1 789.1 805.0 824.2 820.3 M718.0 814.8C740.0 824.4 731.7 861.7 753.8 871.3 M753.8 871.3L766.6 876.9 M766.6 876.9C801.7 892.1 837.7 867.0 872.9 882.3 M766.6 876.9C788.5 886.4 780.2 923.5 802.1 933.0 M802.1 933.0L815.0 938.5 M815.0 938.5C850.2 953.6 886.1 928.6 921.3 943.8 M815.0 938.5C836.8 947.9 828.5 984.8 850.3 994.2 M118.1 -93.3L130.7 -87.2 M130.7 -87.2C165.0 -70.8 201.8 -96.3 236.1 -79.8 M130.7 -87.2C154.6 -75.8 146.2 -36.5 170.0 -25.1 M170.0 -25.1L182.7 -19.1 M182.7 -19.1C217.0 -2.7 253.8 -28.3 288.1 -11.9 M182.7 -19.1C206.4 -7.8 198.0 31.3 221.7 42.5 M221.7 42.5L234.4 48.5 M234.4 48.5C268.8 64.8 305.5 39.3 339.9 55.7 M234.4 48.5C258.0 59.7 249.6 98.6 273.2 109.8 M273.2 109.8L285.9 115.7 M285.9 115.7C320.3 132.0 357.0 106.5 391.5 122.8 M285.9 115.7C309.3 126.8 300.9 165.6 324.4 176.6 M324.4 176.6L337.1 182.5 M337.1 182.5C371.7 198.6 408.3 173.2 442.8 189.4 M337.1 182.5C360.5 193.4 352.1 232.1 375.4 242.9 M375.4 242.9L388.1 248.8 M388.1 248.8C422.7 264.9 459.3 239.5 493.9 255.6 M388.1 248.8C411.3 259.6 403.0 298.1 426.2 308.8 M426.2 308.8L438.9 314.7 M438.9 314.7C473.6 330.7 510.1 305.4 544.8 321.4 M438.9 314.7C462.0 325.3 453.7 363.7 476.8 374.3 M476.8 374.3L489.5 380.1 M489.5 380.1C524.2 396.1 560.7 370.8 595.4 386.8 M489.5 380.1C512.4 390.7 504.1 428.9 527.1 439.3 M527.1 439.3L539.8 445.1 M539.8 445.1C574.6 461.0 611.0 435.8 645.8 451.7 M539.8 445.1C562.6 455.5 554.3 493.6 577.2 503.9 M577.2 503.9L589.9 509.7 M589.9 509.7C624.8 525.5 661.1 500.3 696.0 516.1 M589.9 509.7C612.6 520.0 604.3 557.9 627.0 568.1 M627.0 568.1L639.8 573.8 M639.8 573.8C674.7 589.5 711.0 564.4 745.9 580.1 M639.8 573.8C662.4 584.0 654.1 621.7 676.7 631.8 M676.7 631.8L689.4 637.5 M689.4 637.5C724.4 653.1 760.7 628.1 795.6 643.7 M689.4 637.5C711.9 647.5 703.6 685.1 726.1 695.1 M726.1 695.1L738.8 700.8 M738.8 700.8C773.9 716.3 810.1 691.3 845.1 706.8 M738.8 700.8C761.1 710.6 752.9 748.1 775.2 757.9 M775.2 757.9L788.0 763.6 M788.0 763.6C823.1 779.0 859.3 754.1 894.3 769.5 M788.0 763.6C810.2 773.3 802.0 810.6 824.2 820.3 M824.2 820.3L837.0 825.9 M837.0 825.9C872.1 841.3 908.2 816.4 943.4 831.8 M837.0 825.9C859.0 835.6 850.8 872.7 872.9 882.3 M872.9 882.3L885.7 887.8 M885.7 887.8C920.9 903.1 957.0 878.3 992.1 893.6 M885.7 887.8C907.6 897.4 899.4 934.3 921.3 943.8 M921.3 943.8L934.2 949.3 M934.2 949.3C969.5 964.5 1005.5 939.8 1040.7 955.0 M934.2 949.3C956.0 958.7 947.8 995.5 969.6 1004.9 M236.1 -79.8L248.8 -73.8 M248.8 -73.8C283.1 -57.3 320.0 -82.6 354.3 -66.0 M248.8 -73.8C272.6 -62.3 264.3 -23.3 288.1 -11.9 M288.1 -11.9L300.8 -5.8 M300.8 -5.8C335.2 10.6 372.0 -14.7 406.4 1.8 M300.8 -5.8C324.5 5.5 316.2 44.4 339.9 55.7 M339.9 55.7L352.6 61.7 M352.6 61.7C387.1 78.0 423.8 52.8 458.3 69.2 M352.6 61.7C376.1 72.8 367.9 111.6 391.5 122.8 M391.5 122.8L404.1 128.7 M404.1 128.7C438.7 145.0 475.4 119.9 509.9 136.2 M404.1 128.7C427.6 139.8 419.3 178.4 442.8 189.4 M442.8 189.4L455.5 195.4 M455.5 195.4C490.1 211.6 526.8 186.4 561.4 202.7 M455.5 195.4C478.8 206.3 470.6 244.8 493.9 255.6 M493.9 255.6L506.6 261.5 M506.6 261.5C541.2 277.7 577.9 252.6 612.5 268.8 M506.6 261.5C529.8 272.3 521.6 310.7 544.8 321.4 M544.8 321.4L557.5 327.3 M557.5 327.3C592.2 343.3 628.8 318.3 663.5 334.4 M557.5 327.3C580.5 337.9 572.3 376.2 595.4 386.8 M595.4 386.8L608.1 392.6 M608.1 392.6C642.9 408.6 679.4 383.6 714.2 399.6 M608.1 392.6C631.0 403.1 622.8 441.2 645.8 451.7 M645.8 451.7L658.5 457.5 M658.5 457.5C693.4 473.4 729.8 448.4 764.7 464.4 M658.5 457.5C681.3 467.9 673.1 505.8 696.0 516.1 M696.0 516.1L708.7 521.9 M708.7 521.9C743.6 537.7 780.0 512.8 814.9 528.7 M708.7 521.9C731.4 532.2 723.2 569.9 745.9 580.1 M745.9 580.1L758.7 585.9 M758.7 585.9C793.6 601.6 830.0 576.8 865.0 592.6 M758.7 585.9C781.2 596.0 773.1 633.6 795.6 643.7 M795.6 643.7L808.4 649.4 M808.4 649.4C843.4 665.1 879.7 640.3 914.7 656.0 M808.4 649.4C830.8 659.4 822.7 696.9 845.1 706.8 M845.1 706.8L857.9 712.5 M857.9 712.5C893.0 728.1 929.2 703.4 964.3 719.0 M857.9 712.5C880.1 722.4 872.1 759.7 894.3 769.5 M894.3 769.5L907.1 775.2 M907.1 775.2C942.3 790.7 978.5 766.0 1013.6 781.6 M907.1 775.2C929.3 785.0 921.2 822.1 943.4 831.8 M943.4 831.8L956.2 837.4 M956.2 837.4C991.4 852.8 1027.6 828.2 1062.7 843.7 M956.2 837.4C978.2 847.1 970.1 884.0 992.1 893.6 M992.1 893.6L1005.0 899.2 M1005.0 899.2C1040.2 914.6 1076.4 890.0 1111.6 905.4 M1005.0 899.2C1026.9 908.7 1018.8 945.5 1040.7 955.0 M354.3 -66.0L367.0 -60.0 M367.0 -60.0C401.4 -43.4 438.3 -68.4 472.7 -51.8 M367.0 -60.0C390.7 -48.5 382.6 -9.6 406.4 1.8 M406.4 1.8L419.1 7.8 M419.1 7.8C453.6 24.3 490.5 -0.7 524.9 15.9 M419.1 7.8C442.7 19.1 434.6 57.9 458.3 69.2 M458.3 69.2L471.0 75.2 M471.0 75.2C505.5 91.6 542.3 66.7 576.9 83.1 M471.0 75.2C494.5 86.4 486.4 125.0 509.9 136.2 M509.9 136.2L522.6 142.1 M522.6 142.1C557.2 158.5 594.0 133.6 628.6 149.9 M522.6 142.1C546.0 153.2 537.9 191.7 561.4 202.7 M561.4 202.7L574.0 208.6 M574.0 208.6C608.7 224.9 645.4 200.0 680.1 216.3 M574.0 208.6C597.3 219.5 589.2 257.9 612.5 268.8 M612.5 268.8L625.2 274.7 M625.2 274.7C659.9 290.9 696.6 266.1 731.3 282.3 M625.2 274.7C648.4 285.5 640.3 323.7 663.5 334.4 M663.5 334.4L676.2 340.3 M676.2 340.3C711.0 356.4 747.6 331.6 782.4 347.8 M676.2 340.3C699.2 350.9 691.1 389.0 714.2 399.6 M714.2 399.6L726.9 405.4 M726.9 405.4C761.7 421.5 798.3 396.8 833.2 412.8 M726.9 405.4C749.8 416.0 741.8 453.9 764.7 464.4 M764.7 464.4L777.4 470.2 M777.4 470.2C812.3 486.1 848.9 461.5 883.7 477.4 M777.4 470.2C800.2 480.6 792.1 518.3 814.9 528.7 M814.9 528.7L827.7 534.5 M827.7 534.5C862.6 550.3 899.1 525.7 934.1 541.6 M827.7 534.5C850.3 544.7 842.3 582.3 865.0 592.6 M865.0 592.6L877.7 598.3 M877.7 598.3C912.7 614.1 949.2 589.6 984.2 605.4 M877.7 598.3C900.2 608.5 892.2 645.9 914.7 656.0 M914.7 656.0L927.5 661.7 M927.5 661.7C962.6 677.4 999.0 652.9 1034.1 668.7 M927.5 661.7C949.9 671.7 941.9 709.0 964.3 719.0 M964.3 719.0L977.1 724.7 M977.1 724.7C1012.2 740.3 1048.6 715.9 1083.7 731.5 M977.1 724.7C999.3 734.6 991.4 771.7 1013.6 781.6 M472.7 -51.8L485.4 -45.8 M485.4 -45.8C519.8 -29.2 556.9 -53.9 591.3 -37.3 M485.4 -45.8C509.1 -34.3 501.1 4.5 524.9 15.9 M524.9 15.9L537.6 21.9 M537.6 21.9C572.1 38.4 609.1 13.7 643.6 30.3 M537.6 21.9C561.2 33.2 553.2 71.9 576.9 83.1 M576.9 83.1L589.5 89.1 M589.5 89.1C624.1 105.6 661.0 80.9 695.6 97.4 M589.5 89.1C613.0 100.3 605.1 138.8 628.6 149.9 M628.6 149.9L641.2 155.9 M641.2 155.9C675.9 172.3 712.8 147.7 747.4 164.1 M641.2 155.9C664.6 167.0 656.7 205.3 680.1 216.3 M680.1 216.3L692.8 222.3 M692.8 222.3C727.5 238.6 764.3 214.0 799.0 230.3 M692.8 222.3C716.0 233.2 708.1 271.4 731.3 282.3 M731.3 282.3L744.0 288.2 M744.0 288.2C778.8 304.4 815.6 279.9 850.3 296.2 M744.0 288.2C767.1 299.0 759.2 337.0 782.4 347.8 M782.4 347.8L795.1 353.7 M795.1 353.7C829.9 369.8 866.6 345.3 901.5 361.5 M795.1 353.7C818.1 364.3 810.2 402.2 833.2 412.8 M833.2 412.8L845.9 418.7 M845.9 418.7C880.8 434.8 917.5 410.3 952.3 426.4 M845.9 418.7C868.7 429.2 860.9 467.0 883.7 477.4 M883.7 477.4L896.5 483.3 M896.5 483.3C931.4 499.3 968.0 474.9 1003.0 490.9 M896.5 483.3C919.2 493.7 911.3 531.3 934.1 541.6 M934.1 541.6L946.8 547.4 M946.8 547.4C981.8 563.4 1018.4 539.0 1053.4 555.0 M946.8 547.4C969.4 557.7 961.6 595.2 984.2 605.4 M984.2 605.4L996.9 611.1 M996.9 611.1C1032.0 627.0 1068.5 602.7 1103.6 618.6 M996.9 611.1C1019.4 621.3 1011.6 658.6 1034.1 668.7 M591.3 -37.3L603.9 -31.2 M603.9 -31.2C638.5 -14.5 675.6 -39.0 710.1 -22.3 M603.9 -31.2C627.7 -19.7 619.8 18.9 643.6 30.3 M643.6 30.3L656.2 36.4 M656.2 36.4C690.8 52.9 727.8 28.5 762.4 45.1 M656.2 36.4C679.8 47.7 672.0 86.2 695.6 97.4 M695.6 97.4L708.3 103.4 M708.3 103.4C742.9 120.0 779.9 95.6 814.6 112.1 M708.3 103.4C731.7 114.6 723.9 153.0 747.4 164.1 M747.4 164.1L760.1 170.1 M760.1 170.1C794.8 186.5 831.7 162.2 866.4 178.7 M760.1 170.1C783.4 181.2 775.6 219.4 799.0 230.3 M799.0 230.3L811.7 236.3 M811.7 236.3C846.4 252.7 883.3 228.4 918.1 244.8 M811.7 236.3C834.9 247.2 827.1 285.3 850.3 296.2 M850.3 296.2L863.0 302.1 M863.0 302.1C897.9 318.4 934.7 294.1 969.5 310.4 M863.0 302.1C886.1 312.9 878.3 350.8 901.5 361.5 M901.5 361.5L914.1 367.4 M914.1 367.4C949.0 383.6 985.8 359.4 1020.7 375.7 M914.1 367.4C937.1 378.1 929.4 415.8 952.3 426.4 M952.3 426.4L965.0 432.3 M965.0 432.3C1000.0 448.5 1036.7 424.3 1071.7 440.5 M965.0 432.3C987.9 442.9 980.1 480.4 1003.0 490.9" fill="none" stroke="#b88f74" stroke-width="5.3" stroke-linecap="round" stroke-linejoin="round"/>
<path d="M800 388 L312 837 L231 749 L719 300 Z" fill="url(#fade)"/>
</g>
<g fill="none" stroke="#231f20" stroke-linecap="round" stroke-linejoin="round">
<path d="M327.6 823.0 C311.7 820.3 301.4 819.8 280.0 814.8 C258.6 809.8 229.1 803.2 199.0 793.0 C168.9 782.8 132.9 766.6 99.7 753.4 C66.5 740.1 23.3 722.9 0.0 713.5 C-23.3 704.1 -26.7 702.5 -40.0 697.0" stroke-width="5"/>
<path d="M327.6 890.7 C311.7 888.0 301.4 887.8 280.0 882.5 C258.6 877.2 229.1 869.5 199.0 859.0 C168.9 848.5 132.9 832.4 99.7 819.4 C66.5 806.4 23.3 789.9 0.0 780.8 C-23.3 771.7 -26.7 770.3 -40.0 765.0" stroke-width="5"/>
<path d="M-40.0 8.0 C-26.7 14.6 -15.0 21.3 0.0 27.9 C15.0 34.5 33.3 41.2 50.0 47.7 C66.7 54.2 83.3 59.9 100.0 66.9 C116.7 73.9 133.3 81.2 150.0 89.7 C166.7 98.2 183.3 107.5 200.0 117.6 C216.7 127.6 233.3 138.7 250.0 150.0" stroke-width="4.4"/>
<path d="M250.0 150.0 C266.7 161.3 283.3 173.5 300.0 185.4 C316.7 197.3 333.3 209.7 350.0 221.5 C366.7 233.3 383.3 245.0 400.0 256.0" stroke-width="5"/>
<path d="M400.0 256.0 C416.7 267.0 433.3 277.6 450.0 287.3 C466.7 297.0 483.3 305.9 500.0 314.0 C516.7 322.1 533.3 329.3 550.0 335.9 C566.7 342.4 583.3 348.0 600.0 353.3" stroke-width="5.6"/>
<path d="M600.0 353.3 C616.7 358.6 633.3 363.0 650.0 367.5 C666.7 372.0 684.2 376.1 700.0 380.1 C715.8 384.1 730.8 387.8 745.0 391.4 C759.2 395.0 771.7 398.5 785.0 402.0" stroke-width="6.4"/>
<path d="M785.0 402.0 L327.6 823.0" stroke-width="6.4"/>
<path d="M785.0 465.0 L327.6 890.7" stroke-width="6.4"/>
<path d="M785.0 402.0 L785.0 465.0" stroke-width="7"/>
<path d="M327.6 823.0 L327.6 890.7" stroke-width="6.2"/>
<path d="M756.0 394.3 L785.0 402.0 L785.0 465.0 L763.0 485.4" stroke-width="6.6" stroke-linejoin="miter" stroke-miterlimit="6" stroke-linecap="butt"/>
</g>
<g fill="none" stroke="#54789a" stroke-width="6.2" stroke-linecap="round" stroke-linejoin="round">
<path d="M731 417 V228.4 H843.5"/>
<path d="M730.5 602 V539.6 H843.5"/>
<path d="M730.5 763 V860.8 H843.5"/>
<path d="M730.5 948 V1229.2 H843.5"/>
</g>
<g transform="translate(850.4 197.3) rotate(0) scale(1)" opacity="1"><ellipse cx="5.8" cy="21.2" rx="5" ry="8" transform="rotate(-12 5.8 21.2)" fill="url(#toeg)"/><ellipse cx="18.2" cy="8.8" rx="5.3" ry="8.2" transform="rotate(-6 18.2 8.8)" fill="url(#toeg)"/><ellipse cx="35.8" cy="12.2" rx="5.3" ry="8.2" transform="rotate(28 35.8 12.2)" fill="url(#toeg)"/><ellipse cx="44.8" cy="30.2" rx="5.3" ry="8" transform="rotate(30 44.8 30.2)" fill="url(#toeg)"/><path fill="#4a6f91" d="M24 24.6 C29 23.5 34.5 29 36.5 36 C38.5 42.5 38.5 47.5 35 50.5 C31.5 53.5 27 50 21.5 47.5 C16 45 9 45.5 7 42 C5 38.5 11 33 15 29.5 C18 26.8 21 25.2 24 24.6 Z"/><g clip-path="url(#padclip)" fill="none" stroke="#a9c2da" stroke-width="1.2" stroke-linecap="round" opacity="0.8"><path d="M23 29 l3 4 M27 28 l4 6 M19 33 l4 2 M25 36 l5 3 M31 35 l3 6 M15 38 l6 1 M22 40 l4 4 M28 42 l4 3 M13 42 l5 1 M20 45 l5 1 M30 46 l3 3 M33 40 l2 5 M24 32 l-3 4 M29 38 l-3 4"/></g></g>
<g transform="translate(850.2 502.9) rotate(0) scale(1)" opacity="1"><ellipse cx="5.8" cy="21.2" rx="5" ry="8" transform="rotate(-12 5.8 21.2)" fill="url(#toeg)"/><ellipse cx="18.2" cy="8.8" rx="5.3" ry="8.2" transform="rotate(-6 18.2 8.8)" fill="url(#toeg)"/><ellipse cx="35.8" cy="12.2" rx="5.3" ry="8.2" transform="rotate(28 35.8 12.2)" fill="url(#toeg)"/><ellipse cx="44.8" cy="30.2" rx="5.3" ry="8" transform="rotate(30 44.8 30.2)" fill="url(#toeg)"/><path fill="#4a6f91" d="M24 24.6 C29 23.5 34.5 29 36.5 36 C38.5 42.5 38.5 47.5 35 50.5 C31.5 53.5 27 50 21.5 47.5 C16 45 9 45.5 7 42 C5 38.5 11 33 15 29.5 C18 26.8 21 25.2 24 24.6 Z"/><g clip-path="url(#padclip)" fill="none" stroke="#a9c2da" stroke-width="1.2" stroke-linecap="round" opacity="0.8"><path d="M23 29 l3 4 M27 28 l4 6 M19 33 l4 2 M25 36 l5 3 M31 35 l3 6 M15 38 l6 1 M22 40 l4 4 M28 42 l4 3 M13 42 l5 1 M20 45 l5 1 M30 46 l3 3 M33 40 l2 5 M24 32 l-3 4 M29 38 l-3 4"/></g></g>
<g transform="translate(850.2 824.7) rotate(0) scale(1)" opacity="1"><ellipse cx="5.8" cy="21.2" rx="5" ry="8" transform="rotate(-12 5.8 21.2)" fill="url(#toeg)"/><ellipse cx="18.2" cy="8.8" rx="5.3" ry="8.2" transform="rotate(-6 18.2 8.8)" fill="url(#toeg)"/><ellipse cx="35.8" cy="12.2" rx="5.3" ry="8.2" transform="rotate(28 35.8 12.2)" fill="url(#toeg)"/><ellipse cx="44.8" cy="30.2" rx="5.3" ry="8" transform="rotate(30 44.8 30.2)" fill="url(#toeg)"/><path fill="#4a6f91" d="M24 24.6 C29 23.5 34.5 29 36.5 36 C38.5 42.5 38.5 47.5 35 50.5 C31.5 53.5 27 50 21.5 47.5 C16 45 9 45.5 7 42 C5 38.5 11 33 15 29.5 C18 26.8 21 25.2 24 24.6 Z"/><g clip-path="url(#padclip)" fill="none" stroke="#a9c2da" stroke-width="1.2" stroke-linecap="round" opacity="0.8"><path d="M23 29 l3 4 M27 28 l4 6 M19 33 l4 2 M25 36 l5 3 M31 35 l3 6 M15 38 l6 1 M22 40 l4 4 M28 42 l4 3 M13 42 l5 1 M20 45 l5 1 M30 46 l3 3 M33 40 l2 5 M24 32 l-3 4 M29 38 l-3 4"/></g></g>
<g transform="translate(850.4 1195.0) rotate(0) scale(1)" opacity="1"><ellipse cx="5.8" cy="21.2" rx="5" ry="8" transform="rotate(-12 5.8 21.2)" fill="url(#toeg)"/><ellipse cx="18.2" cy="8.8" rx="5.3" ry="8.2" transform="rotate(-6 18.2 8.8)" fill="url(#toeg)"/><ellipse cx="35.8" cy="12.2" rx="5.3" ry="8.2" transform="rotate(28 35.8 12.2)" fill="url(#toeg)"/><ellipse cx="44.8" cy="30.2" rx="5.3" ry="8" transform="rotate(30 44.8 30.2)" fill="url(#toeg)"/><path fill="#4a6f91" d="M24 24.6 C29 23.5 34.5 29 36.5 36 C38.5 42.5 38.5 47.5 35 50.5 C31.5 53.5 27 50 21.5 47.5 C16 45 9 45.5 7 42 C5 38.5 11 33 15 29.5 C18 26.8 21 25.2 24 24.6 Z"/><g clip-path="url(#padclip)" fill="none" stroke="#a9c2da" stroke-width="1.2" stroke-linecap="round" opacity="0.8"><path d="M23 29 l3 4 M27 28 l4 6 M19 33 l4 2 M25 36 l5 3 M31 35 l3 6 M15 38 l6 1 M22 40 l4 4 M28 42 l4 3 M13 42 l5 1 M20 45 l5 1 M30 46 l3 3 M33 40 l2 5 M24 32 l-3 4 M29 38 l-3 4"/></g></g>
<g>
<text x="922.50" y="168.3" textLength="434.00" lengthAdjust="spacing" font-size="35">Brushed polyester layer</text>
<text x="923.50" y="214.8" textLength="345.00" lengthAdjust="spacing" font-size="35">designed to quickly</text>
<text x="923.50" y="261.3" textLength="429.50" lengthAdjust="spacing" font-size="35">absorb liquids by pulling</text>
<text x="925.50" y="308.5" textLength="461.50" lengthAdjust="spacing" font-size="35">them to the second layer</text>
<text x="925.00" y="514.6" textLength="328.00" lengthAdjust="spacing" font-size="35">Thick high-density</text>
<text x="925.00" y="561.9" textLength="386.00" lengthAdjust="spacing" font-size="35">superabsorbent layer</text>
<text x="924.50" y="771.0" textLength="284.50" lengthAdjust="spacing" font-size="35">Thin breathable,</text>
<text x="924.50" y="818.1" textLength="395.50" lengthAdjust="spacing" font-size="35">waterproof PUL layer</text>
<text x="924.50" y="864.5" textLength="365.00" lengthAdjust="spacing" font-size="35">designed to prevent</text>
<text x="923.50" y="911.2" textLength="369.50" lengthAdjust="spacing" font-size="35">liquids from soaking</text>
<text x="924.50" y="957.9" textLength="366.50" lengthAdjust="spacing" font-size="35">through to the floor</text>
<text x="922.50" y="1142.8" textLength="433.50" lengthAdjust="spacing" font-size="35">Brushed polyester layer</text>
<text x="924.50" y="1189.1" textLength="340.00" lengthAdjust="spacing" font-size="35">with a waterproof</text>
<text x="923.00" y="1236.2" textLength="356.50" lengthAdjust="spacing" font-size="35">barrier underneath</text>
<text x="924.50" y="1282.9" textLength="296.00" lengthAdjust="spacing" font-size="35">to help minimize</text>
<text x="923.50" y="1330.5" textLength="317.50" lengthAdjust="spacing" font-size="35">slipping and leaks</text>
</g>
</svg></body></html>
